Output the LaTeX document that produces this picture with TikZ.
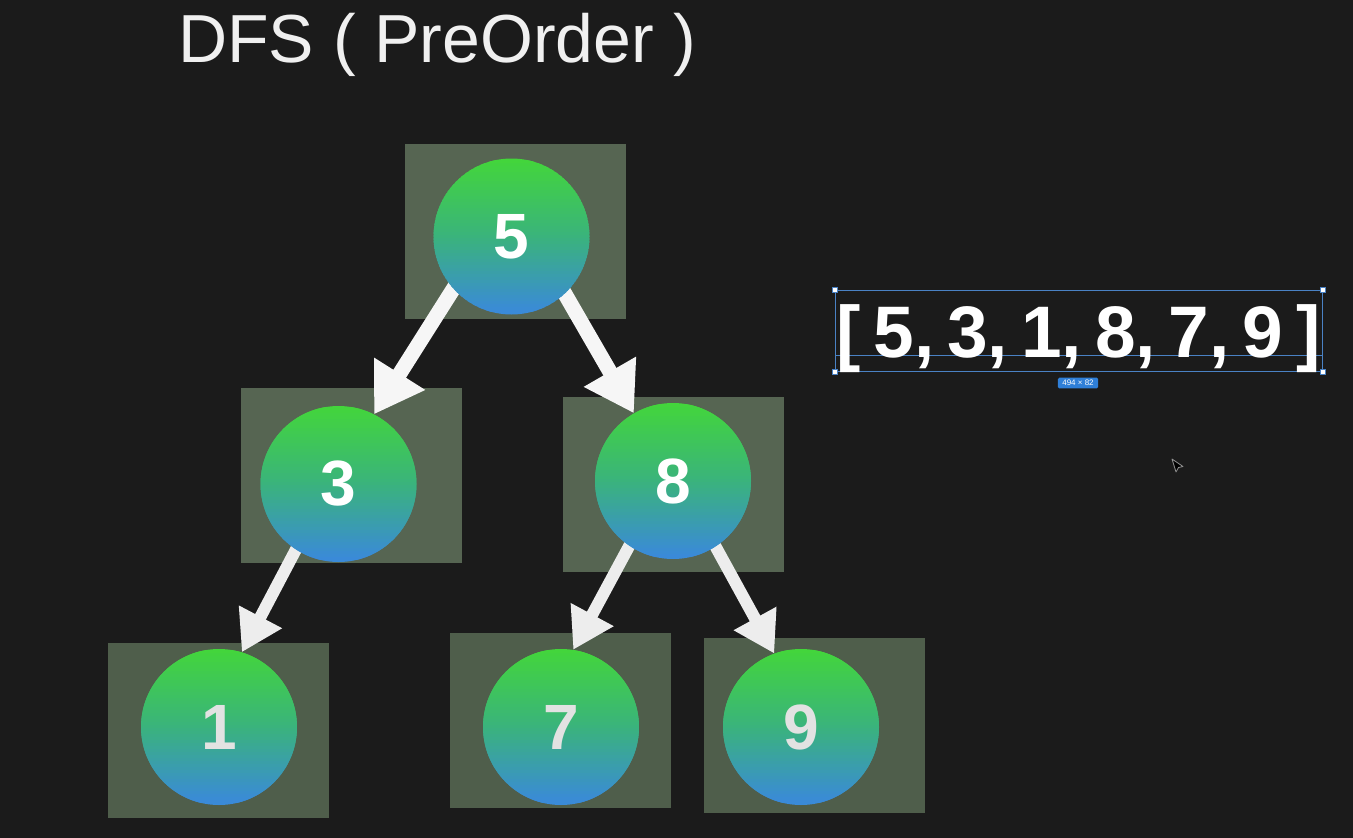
\documentclass[tikz,border=0pt]{standalone}
\usepackage{fontspec}
\setmainfont{Liberation Sans}
\newfontfamily\arrfont{Liberation Sans}[WordSpace=0.64]
\usetikzlibrary{arrows.meta}
\definecolor{bgc}{HTML}{1B1B1B}
\definecolor{boxtop}{HTML}{566552}
\definecolor{boxbot}{HTML}{4F5E4B}
\definecolor{cgreen}{HTML}{43D63A}
\definecolor{cmid}{HTML}{3AB47A}
\definecolor{cblue}{HTML}{3A8AD8}
\definecolor{arrw}{HTML}{F6F6F6}
\definecolor{arrw2}{HTML}{EDEDED}
\definecolor{titlec}{HTML}{F0F0F0}
\definecolor{selc}{HTML}{4A82C4}
\definecolor{badgec}{HTML}{2F7FD8}
\definecolor{digdim}{HTML}{E2E2E2}
\pgfdeclarelayer{back}
\pgfdeclarelayer{mid}
\pgfsetlayers{back,mid,main}
\begin{document}
\begin{tikzpicture}[x=1pt,y=-1pt,
  boxn/.style={rectangle, draw=none, minimum width=221pt, minimum height=175pt, inner sep=0pt},
  treenode/.style={circle, minimum size=156pt, inner sep=0pt,
    path picture={
      \foreach \i in {0,...,51}{
        \pgfmathsetmacro{\t}{\i/51}
        \pgfmathsetmacro{\pa}{min(100,200*\t)}
        \pgfmathsetmacro{\pb}{max(0,200*\t-100)}
        \ifdim \t pt<0.5pt
          \colorlet{stripc}{cmid!\pa!cgreen}
        \else
          \colorlet{stripc}{cblue!\pb!cmid}
        \fi
        \fill[stripc] ([xshift=-2pt, yshift=-\i*3pt+2pt]path picture bounding box.north west)
          rectangle ([xshift=2pt, yshift=-\i*3pt-3.5pt]path picture bounding box.north east);
      }
    },
    font=\bfseries\fontsize{64}{64}\selectfont, text=white},
  bigarr/.style={line width=15pt, draw=arrw, shorten <=-12pt, -{Triangle[length=48pt,width=57pt]}},
  smallarr/.style={line width=12pt, draw=arrw2, shorten <=-12pt, -{Triangle[length=40pt,width=46pt]}},
  handle/.style={rectangle, fill=white, draw=selc, line width=0.8pt, minimum size=5pt, inner sep=0pt},
]
\begin{pgfonlayer}{back}
\fill[bgc] (0,0) rectangle (1353,838);
\node[boxn, fill=boxtop] (b5) at (515,231.5) {};
\node[boxn, fill=boxtop] (b3) at (351.5,475.5) {};
\node[boxn, fill=boxtop] (b8) at (673,484.5) {};
\node[boxn, fill=boxbot] (b1) at (218.5,730) {};
\node[boxn, fill=boxbot] (b7) at (560.5,720.5) {};
\node[boxn, fill=boxbot] (b9) at (814.5,725.5) {};
\end{pgfonlayer}

\node[treenode] (n5) at (511.5,236.5) {5};
\node[treenode] (n3) at (338.5,484) {3};
\node[treenode] (n8) at (673,481) {8};
\node[treenode, text=digdim] (n1) at (219,727) {1};
\node[treenode, text=digdim] (n7) at (561,727) {7};
\node[treenode, text=digdim] (n9) at (801,727) {9};

\begin{pgfonlayer}{mid}
\draw[bigarr] (n5.222) -- (n3.63);
\draw[bigarr] (n5.313) -- (n8.120);
\draw[smallarr] (n3.237) -- (n1.73);
\draw[smallarr] (n8.236) -- (n7.81);
\draw[smallarr] (n8.303) -- (n9.110);
\end{pgfonlayer}

\node[anchor=base west, inner sep=0pt, text=titlec, font=\fontsize{68}{80}\selectfont] (title) at (178,62) {DFS ( PreOrder )};

\node[rectangle, draw=selc, line width=0.9pt, minimum width=487pt, minimum height=81pt, inner sep=0pt] (sel) at (1078.5,330.5) {};
\coordinate (gl) at (835,355);
\coordinate (gr) at (1322,355);
\draw[selc, line width=0.8pt] (gl) -- (gr);
\node[anchor=base west, inner sep=0pt, text=white, font=\arrfont\bfseries\fontsize{73}{80}\selectfont] (arr) at (836,357) {[ 5, 3, 1, 8, 7, 9 ]};
\node[handle] (h1) at (sel.north west) {};
\node[handle] (h2) at (sel.north east) {};
\node[handle] (h3) at (sel.south west) {};
\node[handle] (h4) at (sel.south east) {};
\node[fill=badgec, rounded corners=1.5pt, text=white, font=\fontsize{8}{8}\selectfont, inner xsep=4.5pt, inner ysep=2.5pt] (badge) at (1078,383) {494 × 82};

\filldraw[fill=black, draw=gray!85, line width=0.8pt, line join=round] (1172,459) -- (1183,466.5) -- (1178.5,467.5) -- (1176,472) -- cycle;
\end{tikzpicture}
\end{document}
